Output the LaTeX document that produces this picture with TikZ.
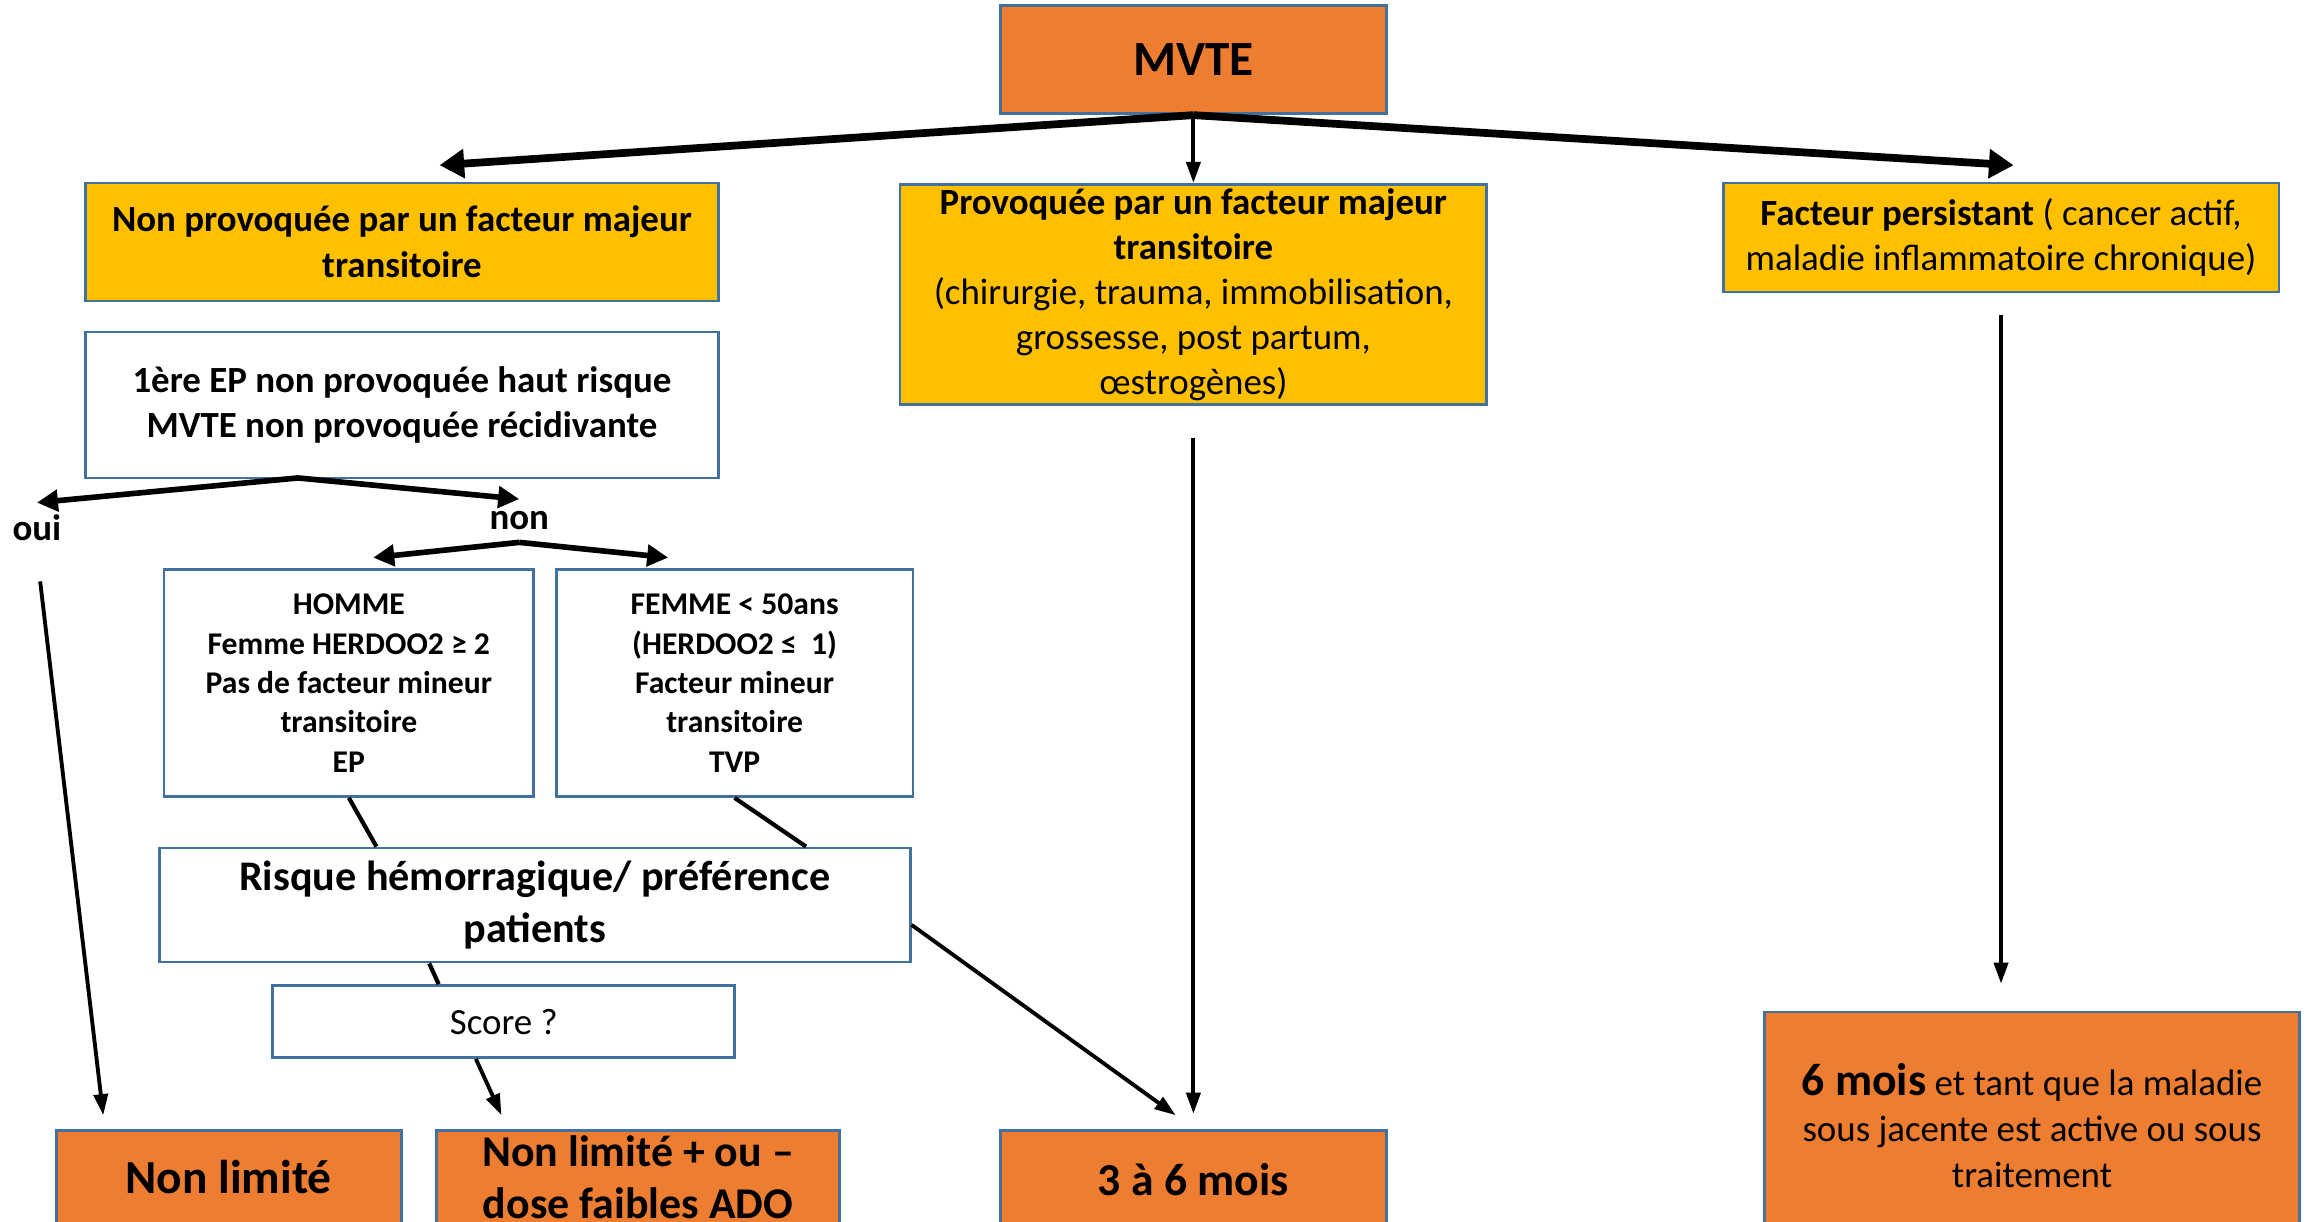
\documentclass[tikz,border=0pt]{standalone}
\usepackage{fontspec}
\setmainfont{Carlito}
\usetikzlibrary{arrows.meta,calc}

\definecolor{mvteorange}{HTML}{ED7D31}
\definecolor{majeuryellow}{HTML}{FFC000}
\definecolor{boxline}{HTML}{41719C}

\begin{document}
\begin{tikzpicture}[x=0.01475cm, y=-0.01475cm,
  box/.style={draw=boxline, line width=0.8pt, align=center, inner sep=0pt},
  orangebox/.style={box, fill=mvteorange},
  yellowbox/.style={box, fill=majeuryellow},
  whitebox/.style={box, fill=white},
  bigarrow/.style={-{Triangle[length=7pt,width=8pt]}, line width=2.2pt},
  midarrow/.style={-{Triangle[length=6pt,width=6pt]}, line width=1.6pt},
  thinarrow/.style={-{Triangle[length=6pt,width=4pt]}, line width=1.1pt},
  link/.style={line width=1.2pt}]
  \useasboundingbox (0,0) rectangle (1568,828);

  \node[orangebox, minimum width=3.86cm, minimum height=1.08cm,
    font=\fontsize{14}{16}\selectfont\bfseries] (mvte) at (809,40.5) {MVTE};

  \node[yellowbox, minimum width=6.33cm, minimum height=1.18cm,
    font=\fontsize{10.5}{13}\selectfont\bfseries] (nonprov) at (272.5,164)
    {Non provoquée par un facteur majeur\\ transitoire};
  \node[yellowbox, minimum width=5.87cm, minimum height=2.2cm,
    font=\fontsize{10.5}{12.8}\selectfont] (prov) at (809,199.5)
    {\textbf{Provoquée par un facteur majeur}\\ \textbf{transitoire}\\
     (chirurgie, trauma, immobilisation,\\ grossesse, post partum,\\ œstrogènes)};
  \node[yellowbox, minimum width=5.56cm, minimum height=1.09cm,
    font=\fontsize{10.5}{13}\selectfont] (persist) at (1356.5,161)
    {\textbf{Facteur persistant} ( cancer actif,\\ maladie inflammatoire chronique)};

  \node[whitebox, minimum width=6.33cm, minimum height=1.46cm,
    font=\fontsize{10.5}{13}\selectfont\bfseries] (hautrisque) at (272.5,274.5)
    {1ère EP non provoquée haut risque\\ MVTE non provoquée récidivante};

  \node[font=\fontsize{10.5}{13}\selectfont\bfseries] (oui) at (25,358) {oui};
  \node[font=\fontsize{10.5}{13}\selectfont\bfseries] (non) at (352,353) {non};

  \node[whitebox, minimum width=3.70cm, minimum height=2.27cm,
    font=\fontsize{9}{11.2}\selectfont\bfseries] (homme) at (236.5,463)
    {HOMME\\ Femme HERDOO2 ≥ 2\\ Pas de facteur mineur\\ transitoire\\ EP};
  \node[whitebox, minimum width=3.57cm, minimum height=2.27cm,
    font=\fontsize{9}{11.2}\selectfont\bfseries] (femme) at (498,463)
    {FEMME < 50ans\\ (HERDOO2 ≤\ \ 1)\\ Facteur mineur\\ transitoire\\ TVP};

  \node[whitebox, minimum width=7.51cm, minimum height=1.14cm,
    font=\fontsize{12}{14.6}\selectfont\bfseries] (hemo) at (362.5,613.5)
    {Risque hémorragique/ préférence\\ patients};
  \node[whitebox, minimum width=4.62cm, minimum height=0.72cm,
    font=\fontsize{10.5}{13}\selectfont] (score) at (341.5,692.5) {Score ?};

  \node[orangebox, minimum width=3.45cm, minimum height=0.94cm,
    font=\fontsize{13.5}{16}\selectfont\bfseries] (nonlim) at (155,798) {Non limité};
  \node[orangebox, minimum width=4.03cm, minimum height=0.94cm,
    font=\fontsize{12.5}{14.6}\selectfont\bfseries] (nonlimado) at (432.5,798)
    {Non limité + ou --\\ dose faibles ADO};
  \node[orangebox, minimum width=3.86cm, minimum height=1.0cm,
    font=\fontsize{13}{16}\selectfont\bfseries] (troismois) at (809,800) {3 à 6 mois};
  \node[orangebox, minimum width=5.35cm, minimum height=2.27cm,
    font=\fontsize{10.5}{13.2}\selectfont] (sixmois) at (1377.5,763)
    {{\bfseries\fontsize{13}{13.2}\selectfont 6 mois} et tant que la maladie\\
     sous jacente est active ou sous\\ traitement};

  \coordinate (toleft) at (298,112);
  \coordinate (toright) at (1365,112);
  \coordinate (dfork) at (202,324);
  \coordinate (tohomme) at (253,378);
  \coordinate (tofemme) at (453,378);
  \coordinate (toado) at (340,756);
  \coordinate (tonlim) at (70,756);
  \coordinate (totrois) at (797,756);

  \draw[bigarrow] (mvte.south) -- (toleft);
  \draw[bigarrow] (mvte.south) -- (toright);
  \draw[thinarrow] (mvte.south) -- (prov.north);

  \draw[midarrow] (dfork) -- (oui.north);
  \draw[midarrow] (dfork) -- (non.north);
  \draw[midarrow] (non.south) -- (tohomme);
  \draw[midarrow] (non.south) -- (tofemme);

  \draw[link] (homme.south) -- ($(hemo.north west)!0.29!(hemo.north east)$);
  \draw[link] (femme.south) -- ($(hemo.north west)!0.86!(hemo.north east)$);
  \draw[link] ($(hemo.south west)!0.36!(hemo.south east)$)
    -- ($(score.north west)!0.36!(score.north east)$);
  \draw[thinarrow] ($(score.south west)!0.44!(score.south east)$) -- (toado);
  \draw[thinarrow, shorten <=0.28cm] (oui.south) -- (tonlim);
  \draw[thinarrow] ($(hemo.north east)!0.67!(hemo.south east)$) -- (totrois);
  \draw[thinarrow, shorten <=0.32cm, shorten >=0.15cm] (prov.south) -- (troismois.north);
  \draw[thinarrow, shorten <=0.22cm, shorten >=0.27cm] (persist.south) -- (persist.south |- sixmois.north);
\end{tikzpicture}
\end{document}
